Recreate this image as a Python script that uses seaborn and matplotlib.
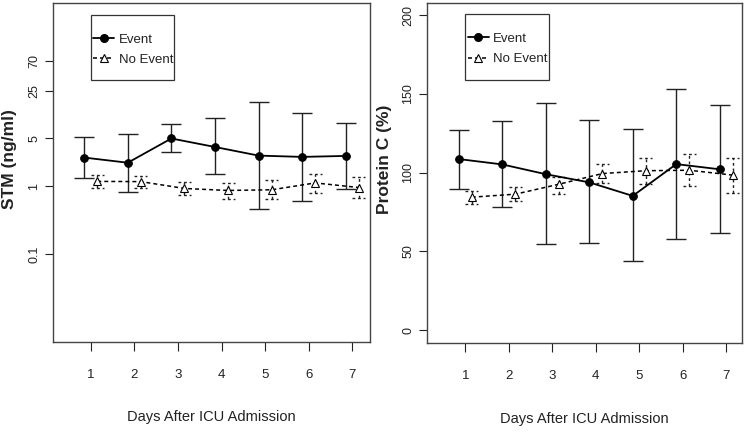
import numpy as np
import pandas as pd
import matplotlib
matplotlib.use("Agg")
import matplotlib.pyplot as plt
import seaborn as sns
from matplotlib.lines import Line2D
from matplotlib.patches import Rectangle
from matplotlib.ticker import NullLocator

# values
days = [1, 2, 3, 4, 5, 6, 7]
day_labels = ["1", "2", "3", "4", "5", "6", "7"]

stm_event = [2.62, 2.2, 5.0, 3.75, 2.8, 2.68, 2.77]
stm_event_lo = [1.30, 0.82, 3.17, 1.49, 0.46, 0.60, 0.89]
stm_event_hi = [5.3, 5.9, 8.2, 9.9, 17.2, 12.0, 8.4]
stm_noevent = [1.17, 1.16, 0.92, 0.86, 0.88, 1.11, 0.95]
stm_noevent_lo = [0.93, 0.93, 0.74, 0.65, 0.64, 0.79, 0.66]
stm_noevent_hi = [1.43, 1.41, 1.16, 1.11, 1.21, 1.51, 1.35]
stm_ticks = [0.1, 1, 5, 25, 70]
stm_tick_labels = ["0.1", "1", "5", "25", "70"]

pc_event = [108.6, 105.2, 99.0, 93.8, 85.2, 105.4, 102.1]
pc_event_lo = [89.9, 77.9, 54.5, 55.5, 44.0, 57.6, 61.8]
pc_event_hi = [127.3, 132.9, 143.9, 133.2, 127.8, 153.2, 143.2]
pc_noevent = [84.4, 86.3, 92.6, 99.4, 101.2, 101.5, 98.4]
pc_noevent_lo = [80.0, 81.8, 86.3, 93.2, 93.0, 91.4, 86.9]
pc_noevent_hi = [88.6, 90.9, 97.0, 105.7, 109.3, 111.8, 109.3]
pc_ticks = [0, 50, 100, 150, 200]
pc_tick_labels = ["0", "50", "100", "150", "200"]

group_names = ["Event", "No Event"]

sns.set_theme(style="ticks")
plt.rcParams["font.family"] = ["Liberation Sans", "DejaVu Sans"]

INK = "#222222"
DASH = (2.6, 2.0)


def draw_panel(ax, ev, ev_lo, ev_hi, ne, ne_lo, ne_hi):
    df = pd.DataFrame({
        "day": days * 2,
        "value": ev + ne,
        "lo": ev_lo + ne_lo,
        "hi": ev_hi + ne_hi,
        "group": [group_names[0]] * len(days) + [group_names[1]] * len(days),
    })
    df["x"] = df["day"] + df["group"].map({"Event": -0.15, "No Event": 0.15})
    e = df[df.group == "Event"]
    n = df[df.group == "No Event"]

    # error bars (solid for Event, dashed for No Event)
    ax.vlines(e.x, e.lo, e.hi, color=INK, lw=1.0, zorder=2)
    ax.hlines(e.lo, e.x - 0.23, e.x + 0.23, color=INK, lw=1.0, zorder=2)
    ax.hlines(e.hi, e.x - 0.23, e.x + 0.23, color=INK, lw=1.0, zorder=2)
    ax.vlines(n.x, n.lo, n.hi, color=INK, lw=1.0, linestyles=(0, (2, 2)), zorder=2)
    ax.hlines(n.lo, n.x - 0.15, n.x + 0.15, color=INK, lw=1.0, linestyles=(0, (2, 2)), zorder=2)
    ax.hlines(n.hi, n.x - 0.15, n.x + 0.15, color=INK, lw=1.0, linestyles=(0, (2, 2)), zorder=2)

    sns.lineplot(data=e, x="x", y="value", ax=ax, color="black", lw=1.3,
                 marker="o", markersize=5.5, markeredgecolor="black",
                 markerfacecolor="black", legend=False, zorder=3)
    sns.lineplot(data=n, x="x", y="value", ax=ax, color="black", lw=1.1,
                 dashes=False, linestyle=(0, DASH), marker="^", markersize=6,
                 markeredgecolor="black", markerfacecolor="white",
                 markeredgewidth=0.8, legend=False, zorder=3)

    handles = [
        Line2D([], [], color="black", lw=1.3, marker="o", markersize=5.5),
        Line2D([], [], color="black", lw=1.1, linestyle=(0, DASH), marker="^",
               markersize=6, markerfacecolor="white", markeredgewidth=0.8),
    ]
    return handles


fig = plt.figure(figsize=(7.44, 4.32), dpi=100)
ax1 = fig.add_axes([0.0706, 0.2090, 0.4267, 0.7840])
ax2 = fig.add_axes([0.5739, 0.2067, 0.4230, 0.7875])

h = draw_panel(ax1, stm_event, stm_event_lo, stm_event_hi,
               stm_noevent, stm_noevent_lo, stm_noevent_hi)
draw_panel(ax2, pc_event, pc_event_lo, pc_event_hi,
           pc_noevent, pc_noevent_lo, pc_noevent_hi)

ax1.set_yscale("log")
ax1.set_ylim(0.00513, 491)
ax1.set_yticks(stm_ticks)
ax1.set_yticklabels(stm_tick_labels)
ax1.yaxis.set_minor_locator(NullLocator())
ax1.set_xlim(0.124, 7.406)
ax1.set_ylabel("STM (ng/ml)")

ax2.set_ylim(-8, 208)
ax2.set_yticks(pc_ticks)
ax2.set_yticklabels(pc_tick_labels)
ax2.set_xlim(0.12, 7.354)
ax2.set_ylabel("Protein C (%)")

# legend box (x, y, w, h in axes fraction) and legend anchor
legend_box = {ax1: (0.120, 0.7727, 0.2633, 0.1919),
              ax2: (0.1217, 0.7722, 0.2650, 0.1931)}
legend_anchor = {ax1: (0.1285, 0.910), ax2: (0.1290, 0.911)}

for ax in (ax1, ax2):
    ax.set_xticks(days)
    ax.set_xticklabels(day_labels)
    ax.set_xlabel("Days After ICU Admission", fontsize=10.5, color=INK)
    ax.xaxis.set_label_coords(0.5, -0.223)
    ax.xaxis.label.set_va("center")
    ax.yaxis.label.set_fontsize(12.5)
    ax.yaxis.label.set_fontweight("bold")
    ax.yaxis.label.set_color(INK)
    ax.yaxis.set_label_coords(-0.136, 0.54)
    ax.yaxis.label.set_va("center")
    ax.tick_params(axis="x", direction="out", length=6.5, width=0.8, pad=13,
                   labelsize=9.5, colors=INK)
    ax.tick_params(axis="y", direction="out", length=6, width=0.8, pad=3,
                   labelsize=9, labelrotation=90, colors=INK)
    for lab in ax.get_yticklabels():
        lab.set_va("center")
    for sp in ax.spines.values():
        sp.set_visible(True)
        sp.set_color("#444444")
        sp.set_linewidth(1.0)

    bx, by, bw, bh = legend_box[ax]
    ax.add_patch(Rectangle((bx, by), bw, bh, transform=ax.transAxes,
                           facecolor="white", edgecolor="#333333", lw=0.9,
                           zorder=4))
    leg = ax.legend(h, group_names, loc="upper left",
                    bbox_to_anchor=legend_anchor[ax], borderaxespad=0,
                    fontsize=9.5, frameon=False, borderpad=0, handlelength=1.6,
                    handletextpad=0.35, labelspacing=0.6, numpoints=1)
    leg.set_zorder(5)
    for t in leg.get_texts():
        t.set_color(INK)

fig.savefig("out.png", dpi=100)
